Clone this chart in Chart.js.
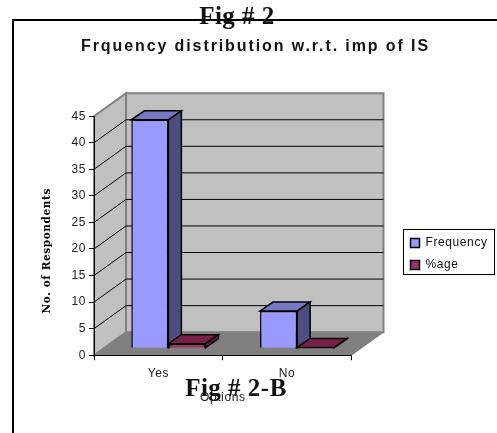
<!DOCTYPE html>
<html>
<head>
<meta charset="utf-8">
<title>Fig # 2</title>
<script src="https://cdn.jsdelivr.net/npm/chart.js@4"></script>
<style>
    html, body { margin: 0; padding: 0; background: #fff; }
    #page { position: relative; width: 497px; height: 433px; overflow: hidden; }
    #frame { position: absolute; left: 12px; top: 19px; width: 600px; height: 600px; border: 2px solid #000; }
    #chart { position: absolute; left: 0; top: 0; }
    .fig { position: absolute; font: bold 25px "Liberation Serif", serif; letter-spacing: 0.5px; color: #111; white-space: nowrap; transform: translateX(-50%); }
</style>
</head>
<body>
<div id="page">
    <div id="frame"></div>
    <canvas id="chart" width="497" height="433"></canvas>
    <div class="fig" style="left:237px; top:2px">Fig # 2</div>
    <div class="fig" style="left:236px; top:374px">Fig # 2-B</div>
</div>
<script>
// Chart data
const categories = ['Yes', 'No'];
const frequency = [43, 7];
const percentage = [0.86, 0.14];

const chartTitle = 'Frquency distribution w.r.t. imp of IS';
const xTitle = 'Options';
const yTitle = 'No. of Respondents';

// Fake 3D look: how far the back wall and the bars are pushed away
const wallDepth = { x: 32, y: -23 };
const barShift = { x: 10, y: -7 };
const barDepth = { x: 13, y: -9 };

const textFont = '"Liberation Sans", Arial, sans-serif';
const textSpacing = '0.6px';
const titleSpacing = '1.9px';

function polygon(ctx, points, fill, stroke, lineWidth) {
    ctx.beginPath();
    points.forEach((p, i) => i ? ctx.lineTo(p[0], p[1]) : ctx.moveTo(p[0], p[1]));
    ctx.closePath();
    ctx.fillStyle = fill;
    ctx.fill();
    ctx.strokeStyle = stroke;
    ctx.lineWidth = lineWidth;
    ctx.stroke();
}

/**
 * Top and side face of every bar in one dataset
 */
function drawBarFaces(chart, meta) {
    const ctx = chart.ctx;
    const colors = chart.data.datasets[meta.index];
    const dx = barDepth.x;
    const dy = barDepth.y;
    meta.data.forEach(bar => {
        const x0 = bar.x - bar.width / 2;
        const x1 = bar.x + bar.width / 2;
        polygon(ctx, [[x0, bar.y], [x1, bar.y], [x1 + dx, bar.y + dy], [x0 + dx, bar.y + dy]], colors.topColor, '#000', 1.5);
        polygon(ctx, [[x1, bar.y], [x1 + dx, bar.y + dy], [x1 + dx, bar.base + dy], [x1, bar.base]], colors.sideColor, '#000', 1.5);
    });
}

// Wider letter spacing for the text, the original is stretched like that
const spacingPlugin = {
    id: 'spacing',
    beforeLayout(chart) {
        chart.ctx.letterSpacing = textSpacing;
    },
    afterLayout(chart) {
        const title = chart.titleBlock;
        const yScale = chart.scales.y;
        if (!title.spaced) {
            const drawTitleBlock = title.draw;
            title.draw = function() {
                chart.ctx.letterSpacing = titleSpacing;
                drawTitleBlock.call(this);
                chart.ctx.letterSpacing = textSpacing;
            };
            title.spaced = true;

            // axis title sits closer to the axis and lower than its middle
            const drawAxisTitle = yScale.drawTitle;
            yScale.drawTitle = function() {
                chart.ctx.save();
                chart.ctx.translate(24, 15);
                drawAxisTitle.call(this);
                chart.ctx.restore();
            };
        }
        // legend box is further left and lower than the layout puts it
        chart.legend.left -= 14;
        chart.legend.top += 33;
        chart.legend.bottom += 33;
    },
    beforeDraw(chart) {
        chart.ctx.letterSpacing = textSpacing;
    }
};

// Walls, floor and back gridlines sit behind the axes
const wallsPlugin = {
    id: 'walls',
    beforeDraw(chart) {
        const ctx = chart.ctx;
        const { left, right, top, bottom } = chart.chartArea;
        const dx = wallDepth.x;
        const dy = wallDepth.y;
        const y = chart.scales.y;

        ctx.save();
        polygon(ctx, [[left, bottom], [left, top], [left + dx, top + dy], [left + dx, bottom + dy]], '#c0c0c0', '#808080', 2);
        polygon(ctx, [[left + dx, top + dy], [right + dx, top + dy], [right + dx, bottom + dy], [left + dx, bottom + dy]], '#c0c0c0', '#808080', 2);
        polygon(ctx, [[left, bottom], [right, bottom], [right + dx, bottom + dy], [left + dx, bottom + dy]], '#808080', '#808080', 1);

        ctx.strokeStyle = '#000';
        ctx.lineWidth = 1;
        y.ticks.forEach(tick => {
            if (tick.value === 0 || tick.value === y.max) return;
            const py = y.getPixelForValue(tick.value);
            ctx.beginPath();
            ctx.moveTo(left, py);
            ctx.lineTo(left + dx, py + dy);
            ctx.lineTo(right + dx, py + dy);
            ctx.stroke();
        });
        ctx.restore();
    }
};

// Bars are moved off the front plane. Frequency has to be painted first
// because %age stands in front of its side face, so %age waits for it.
const barsPlugin = {
    id: 'bars3d',
    beforeDatasetsDraw(chart) {
        chart.ctx.save();
        chart.ctx.translate(barShift.x, barShift.y);
    },
    beforeDatasetDraw(chart, args) {
        if (args.index === 1) return false;
        drawBarFaces(chart, args.meta);
    },
    afterDatasetDraw(chart, args) {
        if (args.index !== 0) return;
        const meta = chart.getDatasetMeta(1);
        drawBarFaces(chart, meta);
        meta.controller.draw();
    },
    afterDatasetsDraw(chart) {
        chart.ctx.restore();
    }
};

const legendFramePlugin = {
    id: 'legendFrame',
    afterDraw(chart) {
        const ctx = chart.ctx;
        const box = chart.legend;
        const middle = (box.top + box.bottom) / 2;
        ctx.save();
        ctx.strokeStyle = '#000';
        ctx.lineWidth = 1;
        ctx.strokeRect(403.5, Math.round(middle - 25) + 0.5, 91, 45);
        ctx.restore();
    }
};

new Chart(document.getElementById('chart'), {
    type: 'bar',
    data: {
        labels: categories,
        datasets: [
            {
                label: 'Frequency',
                data: frequency,
                backgroundColor: '#9999ff',
                topColor: '#7777c4',
                sideColor: '#4d4d80',
                borderColor: '#000',
                borderWidth: 1.5,
                clip: false
            },
            {
                label: '%age',
                data: percentage,
                backgroundColor: '#993366',
                topColor: '#7a2048',
                sideColor: '#66193d',
                borderColor: '#000',
                borderWidth: 1.5,
                clip: false
            }
        ]
    },
    options: {
        responsive: false,
        animation: false,
        layout: { padding: { left: 17, right: 3, top: 37, bottom: 28 } },
        datasets: { bar: { categoryPercentage: 0.576, barPercentage: 1 } },
        plugins: {
            title: {
                display: true,
                text: chartTitle,
                color: '#111',
                font: { family: textFont, size: 16, weight: 'bold' },
                padding: { top: 0, bottom: 60 }
            },
            legend: {
                position: 'right',
                labels: {
                    boxWidth: 9,
                    boxHeight: 9,
                    padding: 10,
                    color: '#111',
                    font: { family: textFont, size: 12 }
                }
            },
            tooltip: { enabled: false }
        },
        scales: {
            x: {
                grid: { drawOnChartArea: false, color: '#000', tickLength: 5, offset: true },
                border: { color: '#000', width: 1 },
                ticks: { color: '#222', padding: 6, font: { family: textFont, size: 12 } },
                title: { display: true, text: xTitle, color: '#222', padding: { top: 4, bottom: 0 }, font: { family: textFont, size: 12 } }
            },
            y: {
                min: 0,
                max: 45,
                grid: { drawOnChartArea: false, color: '#000', tickLength: 5 },
                border: { color: '#000', width: 1 },
                ticks: { stepSize: 5, color: '#222', padding: 3, font: { family: textFont, size: 12 } },
                title: { display: true, text: yTitle, color: '#000', padding: { top: 0, bottom: 0 }, font: { family: '"DejaVu Serif", serif', size: 10.5, weight: 'bold' } },
                afterFit(scale) { scale.width = 77; }
            },
            // empty axis, only keeps room for the walls between plot and legend
            gap: {
                position: 'right',
                display: true,
                grid: { display: false, drawTicks: false },
                border: { display: false },
                ticks: { display: false },
                afterFit(scale) { scale.width = 63; }
            }
        }
    },
    plugins: [spacingPlugin, wallsPlugin, barsPlugin, legendFramePlugin]
});
</script>
</body>
</html>
